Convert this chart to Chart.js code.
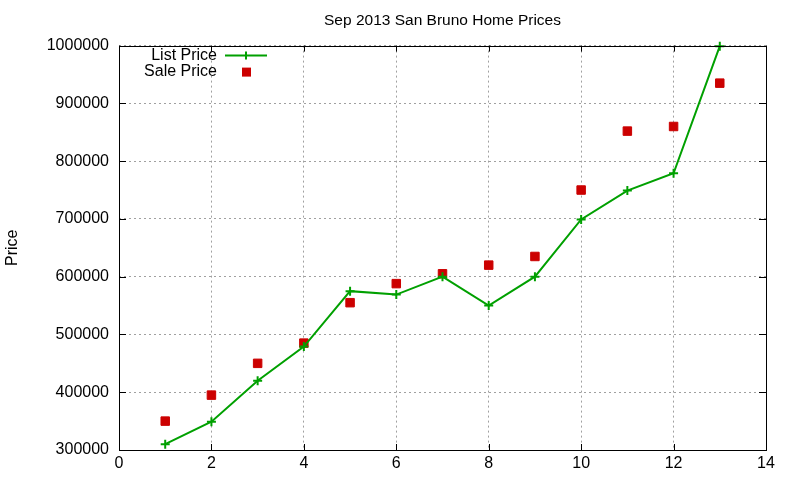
<!DOCTYPE html>
<html>
<head>
<meta charset="utf-8">
<script src="https://cdn.jsdelivr.net/npm/chart.js@4.4.0/dist/chart.umd.min.js"></script>
<style>
  html, body { margin: 0; padding: 0; background: #fff; }
  #wrap { width: 800px; height: 480px; }
</style>
</head>
<body>
<div id="wrap"><canvas id="priceChart" width="800" height="480"></canvas></div>
<script>
// Data
const homeIndex = [1, 2, 3, 4, 5, 6, 7, 8, 9, 10, 11, 12, 13];
const listPrice = [310000, 349000, 420000, 479000, 575000, 569000, 600000, 550000, 600000, 699000, 749000, 779000, 999000];
const salePrice = [350000, 395000, 450000, 485000, 555000, 588000, 605000, 620000, 635000, 750000, 852000, 860000, 935000];
const xTicks = [0, 2, 4, 6, 8, 10, 12, 14];
const yTicks = [300000, 400000, 500000, 600000, 700000, 800000, 900000, 1000000];

const FONT = '"Liberation Sans", Arial, sans-serif';
const GREEN = '#00a000';
const RED = '#cc0000';

function toPoints(xs, ys) {
    return xs.map((x, i) => ({ x: x, y: ys[i] }));
}

// gnuplot-like frame: box, inward ticks on all four sides, custom legend
const framePlugin = {
    id: 'frame',
    afterDatasetsDraw(chart) {
        const ctx = chart.ctx;
        const a = chart.chartArea;
        const xs = chart.scales.x;
        const ys = chart.scales.y;
        ctx.save();
        ctx.strokeStyle = '#000';
        ctx.lineWidth = 1;
        ctx.beginPath();
        xTicks.forEach(v => {
            const px = Math.round(xs.getPixelForValue(v)) + 0.5;
            ctx.moveTo(px, a.bottom); ctx.lineTo(px, a.bottom - 6);
            ctx.moveTo(px, a.top); ctx.lineTo(px, a.top + 6);
        });
        yTicks.forEach(v => {
            const py = Math.round(ys.getPixelForValue(v)) + 0.5;
            ctx.moveTo(a.left, py); ctx.lineTo(a.left + 7, py);
            ctx.moveTo(a.right, py); ctx.lineTo(a.right - 7, py);
        });
        ctx.stroke();
        ctx.strokeRect(Math.round(a.left) + 0.5, Math.round(a.top) + 0.5,
            Math.round(a.right - a.left), Math.round(a.bottom - a.top));

        // legend
        ctx.font = '16px ' + FONT;
        ctx.fillStyle = '#000';
        ctx.textAlign = 'right';
        ctx.textBaseline = 'middle';
        const textRight = a.left + 98;
        const sampleX = a.left + 106;
        ctx.fillText(chart.data.datasets[0].label, textRight, a.top + 10);
        ctx.fillText(chart.data.datasets[1].label, textRight, a.top + 26);
        ctx.strokeStyle = GREEN;
        ctx.lineWidth = 2;
        ctx.beginPath();
        ctx.moveTo(sampleX, a.top + 10); ctx.lineTo(sampleX + 42, a.top + 10);
        ctx.moveTo(sampleX + 21, a.top + 6); ctx.lineTo(sampleX + 21, a.top + 14);
        ctx.stroke();
        ctx.fillStyle = RED;
        ctx.fillRect(sampleX + 17, a.top + 22, 9, 9);
        ctx.restore();
    }
};

const gridStyle = {
    color: '#a0a0a0',
    lineWidth: 1,
    drawTicks: false
};

new Chart(document.getElementById('priceChart'), {
    type: 'line',
    data: {
        datasets: [{
            label: 'List Price',
            data: toPoints(homeIndex, listPrice),
            borderColor: GREEN,
            backgroundColor: GREEN,
            borderWidth: 2,
            pointStyle: 'cross',
            pointRadius: 4.5,
            pointBorderWidth: 2,
            tension: 0,
            fill: false,
            clip: false
        }, {
            label: 'Sale Price',
            data: toPoints(homeIndex, salePrice),
            showLine: false,
            borderColor: RED,
            backgroundColor: RED,
            pointStyle: 'rect',
            pointRadius: 6,
            pointBorderWidth: 1,
            clip: false
        }]
    },
    plugins: [framePlugin],
    options: {
        responsive: false,
        animation: false,
        layout: { padding: { left: 0, right: 34, top: 0, bottom: 0 } },
        plugins: {
            legend: { display: false },
            tooltip: { enabled: false },
            title: {
                display: true,
                text: 'Sep 2013 San Bruno Home Prices',
                fullSize: false,
                color: '#000',
                font: { family: FONT, size: 15.5, weight: 'normal' },
                padding: { top: 11, bottom: 16 }
            }
        },
        scales: {
            x: {
                type: 'linear',
                min: 0,
                max: 14,
                afterBuildTicks: s => { s.ticks = xTicks.map(v => ({ value: v })); },
                afterFit: s => { s.height = 30; },
                border: { display: false, dash: [2, 3] },
                grid: gridStyle,
                ticks: {
                    color: '#000',
                    padding: 4,
                    maxRotation: 0,
                    font: { family: FONT, size: 16 }
                }
            },
            y: {
                min: 300000,
                max: 1000000,
                afterBuildTicks: s => { s.ticks = yTicks.map(v => ({ value: v })); },
                afterFit: s => { s.width = 119; },
                border: { display: false, dash: [2, 3] },
                grid: gridStyle,
                title: {
                    display: true,
                    text: 'Price',
                    color: '#000',
                    font: { family: FONT, size: 16 },
                    padding: { top: 3, bottom: 0 }
                },
                ticks: {
                    color: '#000',
                    padding: 10,
                    font: { family: FONT, size: 16 },
                    callback: v => String(v)
                }
            }
        }
    }
});
</script>
</body>
</html>
